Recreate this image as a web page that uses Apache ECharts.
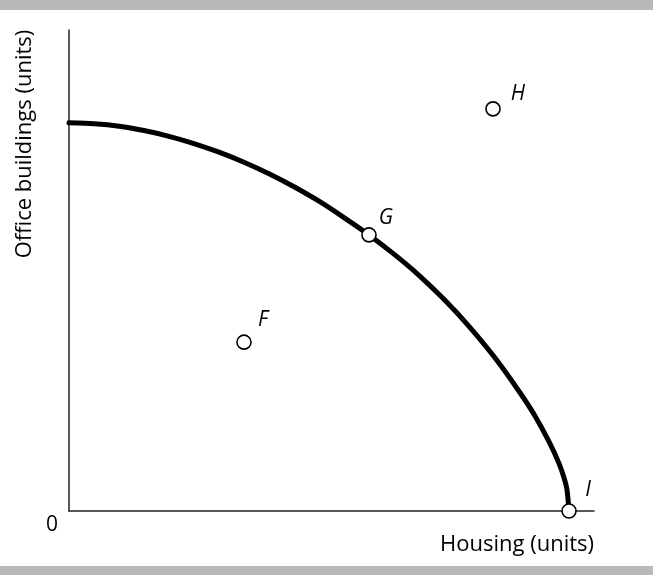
<!DOCTYPE html>
<html>
<head>
<meta charset="utf-8">
<script src="https://cdn.jsdelivr.net/npm/echarts@6/dist/echarts.min.js"></script>
<style>
html,body{margin:0;padding:0;background:#fff;}
#chart{width:653px;height:575px;}
</style>
</head>
<body>
<div id="chart"></div>
<script>
// Production possibilities frontier
var ppfHousing = [0, 5, 10, 15, 20, 25, 30, 35, 40, 45, 50, 55, 60, 65, 70, 75, 80, 85, 90, 93, 96, 98, 99, 99.6, 100];
var ppfOffice  = [80.7, 80.5, 80.0, 79.1, 77.9, 76.4, 74.6, 72.5, 70.1, 67.4, 64.4, 61.0, 57.4, 53.4, 49.0, 44.0, 38.4, 32.1, 24.9, 20.1, 14.4, 9.9, 6.9, 4.4, 0];

var pointNames   = ['F', 'G', 'H', 'I'];
var pointHousing = [35, 60, 84.8, 100];
var pointOffice  = [35.1, 57.4, 83.6, 0];

var xTitle = 'Housing (units)';
var yTitle = 'Office buildings (units)';
var originLabel = '0';

var FONT = 'Open Sans';
var labelOffsets = [[19, -22], [17, -17], [25, -15], [19, -21]];

var chart = echarts.init(document.getElementById('chart'), null, {renderer: 'canvas'});

var curveData = ppfHousing.map(function (x, i) { return [x, ppfOffice[i]]; });
var pointData = pointNames.map(function (n, i) {
  return {
    name: n,
    value: [pointHousing[i], pointOffice[i]],
    label: {offset: labelOffsets[i]}
  };
});

chart.setOption({
  animation: false,
  backgroundColor: '#fff',
  grid: {left: 69, right: 59, top: 30, bottom: 64, containLabel: false},
  xAxis: {
    type: 'value', min: 0, max: 105,
    axisLine: {show: true, onZero: false, lineStyle: {color: '#222', width: 1.5}},
    axisTick: {show: false}, axisLabel: {show: false}, splitLine: {show: false}
  },
  yAxis: {
    type: 'value', min: 0, max: 100,
    axisLine: {show: true, onZero: false, lineStyle: {color: '#222', width: 1.5}},
    axisTick: {show: false}, axisLabel: {show: false}, splitLine: {show: false}
  },
  graphic: [
    {type: 'rect', shape: {x: 0, y: 0, width: 653, height: 10}, style: {fill: '#b9b9b9'}},
    {type: 'rect', shape: {x: 0, y: 566, width: 653, height: 9}, style: {fill: '#b9b9b9'}},
    {type: 'text', x: 594, y: 545, style: {text: xTitle, fill: '#000', font: '22px "' + FONT + '"', textAlign: 'right', textVerticalAlign: 'middle'}},
    {type: 'text', x: 25, y: 144, rotation: Math.PI / 2, style: {text: yTitle, fill: '#000', font: '22px "' + FONT + '"', textAlign: 'center', textVerticalAlign: 'middle'}},
    {type: 'text', x: 52, y: 525, style: {text: originLabel, fill: '#000', font: '21px "' + FONT + '"', textAlign: 'center', textVerticalAlign: 'middle'}}
  ],
  series: [
    {
      type: 'line', data: curveData, smooth: 0.25, showSymbol: false, z: 2,
      lineStyle: {color: '#000', width: 5, cap: 'round', join: 'round'}
    },
    {
      type: 'scatter', data: pointData, symbol: 'circle', symbolSize: 14, z: 3,
      itemStyle: {color: '#fff', opacity: 1, borderColor: '#000', borderWidth: 1.6},
      label: {
        show: true, position: 'inside', formatter: '{b}',
        color: '#000', fontSize: 21, fontStyle: 'italic', fontFamily: FONT
      }
    }
  ]
});
</script>
</body>
</html>
